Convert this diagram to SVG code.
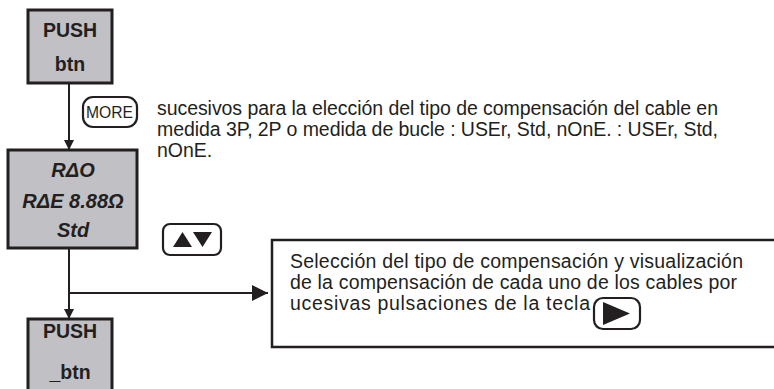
<svg xmlns="http://www.w3.org/2000/svg" width="774" height="389" viewBox="0 0 774 389">
<defs>
<style>
.box{fill:#c1c1c5;stroke:#231f20;stroke-width:3}
.lbl{font-family:"Liberation Sans",Arial,sans-serif;font-weight:bold;font-size:19.5px;fill:#231f20;text-anchor:middle}
.it{font-style:italic;font-size:20px}
.txt{font-family:"Liberation Sans",Arial,sans-serif;fill:#231f20}
.key{fill:#fff;stroke:#231f20;stroke-width:2.2}
.ln{stroke:#231f20;stroke-width:2;fill:none}
</style>
<marker id="ah" markerWidth="10" markerHeight="10" refX="9" refY="5" orient="auto" markerUnits="userSpaceOnUse" viewBox="0 0 10 10">
<path d="M0,0 L10,5 L0,10 Z" fill="#231f20"/>
</marker>
<marker id="ah2" markerWidth="16" markerHeight="16" refX="16" refY="8" orient="auto" markerUnits="userSpaceOnUse" viewBox="0 0 16 16">
<path d="M0,0 L16,8 L0,16 Z" fill="#231f20"/>
</marker>
</defs>
<rect width="774" height="389" fill="#fff"/>
<g id="connectors">
<line class="ln" x1="69" y1="84" x2="69" y2="149" marker-end="url(#ah)"/>
<line class="ln" x1="69" y1="249" x2="69" y2="318" marker-end="url(#ah)"/>
<line class="ln" x1="69" y1="293" x2="268" y2="293" marker-end="url(#ah2)"/>
</g>
<g id="push1">
<rect class="box" x="28" y="10" width="84" height="73"/>
<text class="lbl" x="70" y="37">PUSH</text>
<text class="lbl" x="70" y="71">btn</text>
</g>
<g id="more">
<rect class="key" x="83" y="97" width="54" height="30" rx="10"/>
<text class="txt" x="86" y="118" style="font-size:16px" textLength="47" lengthAdjust="spacingAndGlyphs">MORE</text>
</g>
<g id="note1" style="font-size:19.5px">
<text class="txt" x="157" y="115" textLength="561" lengthAdjust="spacing">sucesivos para la elección del tipo de compensación del cable en</text>
<text class="txt" x="157" y="136" textLength="561" lengthAdjust="spacing">medida 3P, 2P o medida de bucle : USEr, Std, nOnE. : USEr, Std,</text>
<text class="txt" x="157" y="157">nOnE.</text>
</g>
<g id="display">
<rect class="box" x="8" y="150" width="129" height="98"/>
<text class="lbl it" x="73" y="177">RΔO</text>
<text class="lbl it" x="73" y="208">RΔE 8.88Ω</text>
<text class="lbl it" x="73" y="237">Std</text>
</g>
<g id="updown">
<rect class="key" x="163" y="224" width="58" height="31" rx="7"/>
<path d="M173,247 L182.5,232 L192,247 Z M193,232 L212,232 L202.5,247 Z" fill="#231f20"/>
</g>
<g id="push2">
<rect class="box" x="28" y="319" width="84" height="80"/>
<text class="lbl" x="70" y="338">PUSH</text>
<text class="lbl" x="70" y="379">_btn</text>
</g>
<g id="note2" style="font-size:19.5px">
<rect x="272" y="240" width="510" height="107" fill="#fff" stroke="#231f20" stroke-width="2.5"/>
<text class="txt" x="290" y="268" textLength="453" lengthAdjust="spacing">Selección del tipo de compensación y visualización</text>
<text class="txt" x="290" y="289" textLength="447" lengthAdjust="spacing">de la compensación de cada uno de los cables por</text>
<text class="txt" x="290" y="310" textLength="300" lengthAdjust="spacing">ucesivas pulsaciones de la tecla</text>
<rect class="key" x="594" y="298" width="46" height="31" rx="9"/>
<path d="M603,302 L630,313.5 L603,325 Z" fill="#231f20"/>
</g>
</svg>
